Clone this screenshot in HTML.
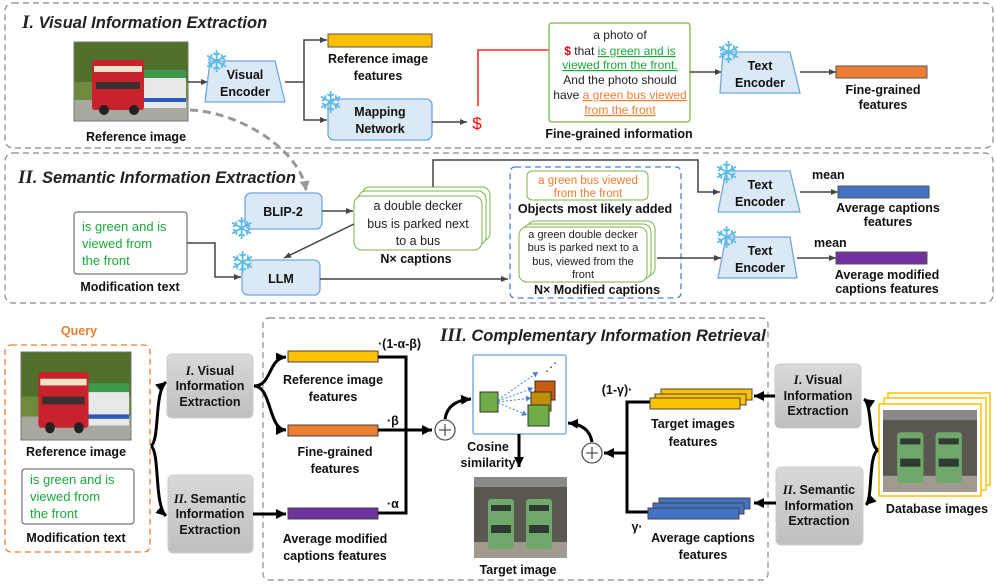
<!DOCTYPE html>
<html><head><meta charset="utf-8"><style>
html,body{margin:0;padding:0;background:#fff;}
svg{display:block;}
text{font-family:"Liberation Sans",sans-serif;}
.b{font-weight:bold;font-size:12.5px;fill:#111;}
.t{font-family:"Liberation Sans",sans-serif;font-weight:bold;font-style:italic;font-size:16.5px;fill:#222;}
.g{font-size:13px;fill:#1aa83a;}
.sf{font-family:"DejaVu Sans",sans-serif;font-size:30px;fill:#5bbbe6;}
</style></head><body>
<svg width="996" height="586" viewBox="0 0 996 586" xmlns="http://www.w3.org/2000/svg">
<defs>
<marker id="a" markerWidth="8" markerHeight="8" refX="7" refY="4" orient="auto" markerUnits="userSpaceOnUse"><path d="M0,1 L7,4 L0,7z" fill="#444"/></marker>
<marker id="r" markerWidth="8" markerHeight="8" refX="7" refY="4" orient="auto" markerUnits="userSpaceOnUse"><path d="M0,1 L7,4 L0,7z" fill="#f00"/></marker>
<marker id="k" markerWidth="12" markerHeight="12" refX="10" refY="6" orient="auto" markerUnits="userSpaceOnUse"><path d="M0,1 L10,6 L0,11z" fill="#000"/></marker>
<marker id="gd" markerWidth="12" markerHeight="12" refX="9" refY="6" orient="auto" markerUnits="userSpaceOnUse"><path d="M0,1 L10,6 L0,11z" fill="#999"/></marker>
<marker id="bl" markerWidth="6" markerHeight="6" refX="5" refY="3" orient="auto" markerUnits="userSpaceOnUse"><path d="M0,0 L5,3 L0,6z" fill="#4a7fd4"/></marker>
<linearGradient id="gb" x1="0" y1="0" x2="0" y2="1"><stop offset="0" stop-color="#d9d9d9"/><stop offset="1" stop-color="#bfbfbf"/></linearGradient>
<g id="refimg">
<rect width="114" height="79" fill="#6f8a3e"/>
<rect y="0" width="114" height="40" fill="#4f6f2a"/>
<rect y="58" width="114" height="21" fill="#a8a8a0"/>
<rect x="60" y="30" width="52" height="36" fill="#e8e8e8"/>
<rect x="60" y="28" width="52" height="8" fill="#3c9a4a"/>
<rect x="60" y="56" width="52" height="4" fill="#2b5bb3"/>
<rect x="18" y="18" width="52" height="50" rx="3" fill="#c8232c"/>
<rect x="20" y="24" width="48" height="6" fill="#f0e3c8"/>
<rect x="22" y="40" width="44" height="7" fill="#3a3030"/>
<circle cx="30" cy="68" r="5" fill="#222"/><circle cx="60" cy="68" r="5" fill="#222"/>
</g>
<g id="tgtimg">
<rect width="93" height="81" fill="#5a5650"/>
<rect width="93" height="10" fill="#8a8a88"/>
<rect y="65" width="93" height="16" fill="#a09a90"/>
<rect x="14" y="22" width="26" height="50" rx="3" fill="#6fa86a"/>
<rect x="52" y="22" width="26" height="50" rx="3" fill="#6fa86a"/>
<rect x="17" y="28" width="20" height="6" fill="#2e3a32"/><rect x="55" y="28" width="20" height="6" fill="#2e3a32"/>
<rect x="17" y="48" width="20" height="8" fill="#2e3a32"/><rect x="55" y="48" width="20" height="8" fill="#2e3a32"/>
</g>
</defs>

<!-- Panel I -->
<rect x="5" y="3" width="988" height="145" rx="8" fill="none" stroke="#888" stroke-dasharray="6,4" stroke-width="1.2"/>
<text x="22" y="28" class="t"><tspan font-family="Liberation Serif" font-size="19">I</tspan>. Visual Information Extraction</text>
<use href="#refimg" x="74" y="42"/><rect x="74" y="42" width="114" height="79" fill="none" stroke="#777"/>
<text x="136" y="141" class="b" text-anchor="middle">Reference image</text>
<line x1="188" y1="82" x2="208" y2="82" stroke="#444" stroke-width="1.5" marker-end="url(#a)"/>
<path d="M210,61 L275,61 L285,102 L205,102z" fill="#dbe8f5" stroke="#6fa8dc" stroke-width="1.3"/>
<text x="245" y="79" class="b" text-anchor="middle">Visual</text><text x="245" y="96" class="b" text-anchor="middle">Encoder</text>
<text x="204" y="72" class="sf">❄</text>
<path d="M285,82 H304 V40 H327" fill="none" stroke="#444" stroke-width="1.5" marker-end="url(#a)"/>
<path d="M304,82 V120 H327" fill="none" stroke="#444" stroke-width="1.5" marker-end="url(#a)"/>
<rect x="328" y="34" width="104" height="13" fill="#FFC000" stroke="#555"/>
<text x="378" y="63" class="b" text-anchor="middle">Reference image</text><text x="378" y="80" class="b" text-anchor="middle">features</text>
<rect x="328" y="99" width="104" height="41" rx="6" fill="#dbe8f5" stroke="#6fa8dc" stroke-width="1.3"/>
<text x="380" y="116" class="b" text-anchor="middle">Mapping</text><text x="380" y="133" class="b" text-anchor="middle">Network</text>
<text x="318" y="113" class="sf">❄</text>
<line x1="432" y1="122" x2="467" y2="122" stroke="#444" stroke-width="1.5" marker-end="url(#a)"/>
<text x="477" y="129" font-size="17" fill="#f00" text-anchor="middle">$</text>
<path d="M478,106 V50 H559" fill="none" stroke="#f00" stroke-width="1.3" marker-end="url(#r)"/>
<rect x="549" y="23" width="141" height="99" rx="3" fill="#fff" stroke="#7ab648" stroke-width="1.3"/>
<g text-anchor="middle" style="font-size:12px;fill:#222">
<text x="620" y="39">a photo of</text>
<text x="620" y="55"><tspan fill="#f00" font-weight="bold">$</tspan> that <tspan fill="#1aa83a" text-decoration="underline">is green and is</tspan></text>
<text x="620" y="69" fill="#1aa83a" text-decoration="underline">viewed from the front.</text>
<text x="620" y="84">And the photo should</text>
<text x="620" y="99">have <tspan fill="#ed7d31" text-decoration="underline">a green bus viewed</tspan></text>
<text x="620" y="114" fill="#ed7d31" text-decoration="underline">from the front</text>
</g>
<text x="619" y="138" class="b" text-anchor="middle">Fine-grained information</text>
<line x1="690" y1="72" x2="722" y2="72" stroke="#444" stroke-width="1.5" marker-end="url(#a)"/>
<path d="M723,52 L790,52 L800,93 L720,93z" fill="#dbe8f5" stroke="#6fa8dc" stroke-width="1.3"/>
<text x="760" y="70" class="b" text-anchor="middle">Text</text><text x="760" y="87" class="b" text-anchor="middle">Encoder</text>
<text x="716" y="63" class="sf">❄</text>
<line x1="800" y1="72" x2="836" y2="72" stroke="#444" stroke-width="1.5" marker-end="url(#a)"/>
<rect x="836" y="66" width="91" height="12" fill="#ED7D31" stroke="#555"/>
<text x="883" y="94" class="b" text-anchor="middle">Fine-grained</text><text x="883" y="109" class="b" text-anchor="middle">features</text>

<!-- Panel II -->
<rect x="5" y="153" width="988" height="150" rx="8" fill="none" stroke="#888" stroke-dasharray="6,4" stroke-width="1.2"/>
<text x="18" y="183" class="t"><tspan font-family="Liberation Serif" font-size="19">II</tspan>. Semantic Information Extraction</text>
<path d="M190,110 C240,112 300,150 306,190" fill="none" stroke="#999" stroke-width="3" stroke-dasharray="8,5" marker-end="url(#gd)"/>
<rect x="245" y="193" width="77" height="36" rx="6" fill="#dbe8f5" stroke="#6fa8dc" stroke-width="1.3"/>
<text x="283" y="216" class="b" text-anchor="middle">BLIP-2</text>
<text x="229" y="239" class="sf">❄</text>
<line x1="322" y1="211" x2="353" y2="211" stroke="#444" stroke-width="1.5" marker-end="url(#a)"/>
<rect x="362" y="187" width="128" height="54" rx="8" fill="#fff" stroke="#7ab648"/>
<rect x="358" y="191" width="128" height="54" rx="8" fill="#fff" stroke="#7ab648"/>
<rect x="354" y="196" width="128" height="54" rx="8" fill="#fff" stroke="#7ab648"/>
<g text-anchor="middle" style="font-size:12.5px;fill:#222"><text x="418" y="210">a double decker</text><text x="418" y="228">bus is parked next</text><text x="418" y="245">to a bus</text></g>
<text x="416" y="263" class="b" text-anchor="middle">N× captions</text>
<line x1="354" y1="224" x2="284" y2="258" stroke="#444" stroke-width="1.5" marker-end="url(#a)"/>
<path d="M433,187 V160 H698 V192 H720" fill="none" stroke="#444" stroke-width="1.5" marker-end="url(#a)"/>
<rect x="74" y="212" width="113" height="62" rx="3" fill="#fff" stroke="#555"/>
<g class="g"><text x="82" y="231">is green and is</text><text x="82" y="248">viewed from</text><text x="82" y="265">the front</text></g>
<text x="130" y="291" class="b" text-anchor="middle">Modification text</text>
<path d="M187,243 H215 V277 H241" fill="none" stroke="#444" stroke-width="1.5" marker-end="url(#a)"/>
<rect x="242" y="260" width="78" height="35" rx="6" fill="#dbe8f5" stroke="#6fa8dc" stroke-width="1.3"/>
<text x="281" y="283" class="b" text-anchor="middle">LLM</text>
<text x="230" y="273" class="sf">❄</text>
<line x1="320" y1="279" x2="508" y2="279" stroke="#444" stroke-width="1.5" marker-end="url(#a)"/>
<rect x="510" y="167" width="171" height="131" rx="5" fill="none" stroke="#4a7fd4" stroke-dasharray="6,4" stroke-width="1.3"/>
<rect x="527" y="171" width="121" height="29" rx="5" fill="#fff" stroke="#7ab648"/>
<g font-size="11.5" fill="#ed7d31" text-anchor="middle"><text x="588" y="184">a green bus viewed</text><text x="588" y="197">from the front</text></g>
<text x="595" y="213" class="b" text-anchor="middle">Objects most likely added</text>
<rect x="527" y="221" width="128" height="55" rx="8" fill="#fff" stroke="#7ab648"/>
<rect x="523" y="224" width="128" height="55" rx="8" fill="#fff" stroke="#7ab648"/>
<rect x="519" y="227" width="128" height="55" rx="8" fill="#fff" stroke="#7ab648"/>
<g text-anchor="middle" style="font-size:11px;fill:#222"><text x="583" y="238">a green double decker</text><text x="583" y="251">bus is parked next to a</text><text x="583" y="265">bus, viewed from the</text><text x="583" y="278">front</text></g>
<text x="597" y="294" class="b" text-anchor="middle">N× Modified captions</text>
<line x1="657" y1="258" x2="721" y2="258" stroke="#444" stroke-width="1.5" marker-end="url(#a)"/>
<path d="M726,171 L790,171 L800,212 L718,212z" fill="#dbe8f5" stroke="#6fa8dc" stroke-width="1.3"/>
<text x="760" y="189" class="b" text-anchor="middle">Text</text><text x="760" y="206" class="b" text-anchor="middle">Encoder</text>
<text x="714" y="183" class="sf">❄</text>
<text x="812" y="179" class="b">mean</text>
<line x1="800" y1="192" x2="838" y2="192" stroke="#444" stroke-width="1.5" marker-end="url(#a)"/>
<rect x="838" y="186" width="91" height="12" fill="#4472C4" stroke="#555"/>
<text x="888" y="212" class="b" text-anchor="middle">Average captions</text><text x="888" y="226" class="b" text-anchor="middle">features</text>
<path d="M726,237 L790,237 L797,278 L718,278z" fill="#dbe8f5" stroke="#6fa8dc" stroke-width="1.3"/>
<text x="760" y="255" class="b" text-anchor="middle">Text</text><text x="760" y="272" class="b" text-anchor="middle">Encoder</text>
<text x="714" y="248" class="sf">❄</text>
<text x="814" y="247" class="b">mean</text>
<line x1="797" y1="258" x2="836" y2="258" stroke="#444" stroke-width="1.5" marker-end="url(#a)"/>
<rect x="836" y="252" width="91" height="12" fill="#7030A0" stroke="#555"/>
<text x="887" y="279" class="b" text-anchor="middle">Average modified</text><text x="887" y="293" class="b" text-anchor="middle">captions features</text>

<!-- Bottom -->
<text x="79" y="335" font-size="12.5" font-weight="bold" fill="#ed7d31" text-anchor="middle">Query</text>
<rect x="5" y="345" width="145" height="207" rx="6" fill="none" stroke="#ed7d31" stroke-dasharray="6,4" stroke-width="1.3"/>
<svg x="21" y="352" width="110" height="88" viewBox="0 0 114 79" preserveAspectRatio="none"><use href="#refimg"/></svg>
<rect x="21" y="352" width="110" height="88" fill="none" stroke="#777"/>
<text x="76" y="456" class="b" text-anchor="middle">Reference image</text>
<rect x="22" y="469" width="112" height="55" rx="3" fill="#fff" stroke="#555"/>
<g class="g"><text x="30" y="484">is green and is</text><text x="30" y="501">viewed from</text><text x="30" y="518">the front</text></g>
<text x="76" y="542" class="b" text-anchor="middle">Modification text</text>
<path d="M151,446 C160,440 154,392 166,382" fill="none" stroke="#000" stroke-width="3" marker-end="url(#k)"/>
<path d="M151,446 C160,452 154,505 166,516" fill="none" stroke="#000" stroke-width="3" marker-end="url(#k)"/>
<rect x="167" y="354" width="86" height="64" rx="5" fill="url(#gb)" stroke="#ccc"/>
<g class="b" font-size="12" text-anchor="middle"><text x="210" y="375"><tspan font-family="Liberation Serif" font-style="italic">I</tspan>. Visual</text><text x="210" y="390">Information</text><text x="210" y="406">Extraction</text></g>
<rect x="168" y="475" width="85" height="78" rx="5" fill="url(#gb)" stroke="#ccc"/>
<g class="b" font-size="12" text-anchor="middle"><text x="210" y="503"><tspan font-family="Liberation Serif" font-style="italic">II</tspan>. Semantic</text><text x="210" y="518">Information</text><text x="210" y="534">Extraction</text></g>

<rect x="263" y="318" width="505" height="262" rx="6" fill="none" stroke="#888" stroke-dasharray="6,4" stroke-width="1.2"/>
<text x="440" y="341" class="t"><tspan font-family="Liberation Serif" font-size="19">III</tspan>. Complementary Information Retrieval</text>
<path d="M254,386 C272,386 268,358 286,357" fill="none" stroke="#000" stroke-width="3" marker-end="url(#k)"/>
<path d="M254,386 C272,386 268,430 286,430" fill="none" stroke="#000" stroke-width="3" marker-end="url(#k)"/>
<line x1="253" y1="514" x2="286" y2="514" stroke="#000" stroke-width="3" marker-end="url(#k)"/>
<rect x="288" y="351" width="90" height="11" fill="#FFC000" stroke="#444"/>
<rect x="288" y="425" width="90" height="11" fill="#ED7D31" stroke="#444"/>
<rect x="288" y="508" width="90" height="11" fill="#7030A0" stroke="#444"/>
<text x="333" y="384" class="b" text-anchor="middle">Reference image</text><text x="333" y="401" class="b" text-anchor="middle">features</text>
<text x="335" y="456" class="b" text-anchor="middle">Fine-grained</text><text x="335" y="473" class="b" text-anchor="middle">features</text>
<text x="335" y="543" class="b" text-anchor="middle">Average modified</text><text x="335" y="560" class="b" text-anchor="middle">captions features</text>
<text x="378" y="348" class="b">·(1-α-β)</text>
<text x="387" y="425" class="b">·β</text>
<text x="387" y="508" class="b">·α</text>
<path d="M378,357 H406 V513 H378" fill="none" stroke="#000" stroke-width="3"/>
<line x1="378" y1="430" x2="432" y2="430" stroke="#000" stroke-width="3" marker-end="url(#k)"/>
<circle cx="445" cy="430" r="10" fill="#fff" stroke="#555" stroke-width="1.3"/>
<path d="M439,430 H451 M445,424 V436" stroke="#555" stroke-width="1.3"/>
<path d="M445,419 C447,405 458,400 471,399" fill="none" stroke="#000" stroke-width="3" marker-end="url(#k)"/>
<rect x="473" y="355" width="93" height="79" rx="2" fill="#fff" stroke="#6f9fdc" stroke-width="1.3"/>
<rect x="480" y="392" width="18" height="20" fill="#70ad47" stroke="#333"/>
<g stroke="#4a7fd4" stroke-width="1" stroke-dasharray="2,2" fill="none">
<line x1="498" y1="400" x2="538" y2="372" marker-end="url(#bl)"/><line x1="498" y1="401" x2="533" y2="388" marker-end="url(#bl)"/><line x1="498" y1="402" x2="531" y2="398" marker-end="url(#bl)"/><line x1="498" y1="403" x2="527" y2="415" marker-end="url(#bl)"/></g>
<text x="545" y="371" font-size="12" fill="#222">⋰</text>
<rect x="535" y="381" width="20" height="19" fill="#c55a11" stroke="#333"/>
<rect x="531" y="392" width="20" height="19" fill="#bf9000" stroke="#333"/>
<rect x="528" y="405" width="21" height="21" fill="#70ad47" stroke="#333"/>
<text x="488" y="451" class="b" text-anchor="middle">Cosine</text><text x="488" y="467" class="b" text-anchor="middle">similarity</text>
<line x1="519" y1="434" x2="519" y2="467" stroke="#000" stroke-width="3" marker-end="url(#k)"/>
<use href="#tgtimg" x="474" y="477"/>
<text x="518" y="574" class="b" text-anchor="middle">Target image</text>
<circle cx="592" cy="453" r="10" fill="#fff" stroke="#555" stroke-width="1.3"/>
<path d="M586,453 H598 M592,447 V459" stroke="#555" stroke-width="1.3"/>
<path d="M592,442 C590,430 582,424 568,423" fill="none" stroke="#000" stroke-width="3" marker-end="url(#k)"/>
<line x1="627" y1="453" x2="604" y2="453" stroke="#000" stroke-width="3" marker-end="url(#k)"/>
<path d="M650,402 H627 V512 H648" fill="none" stroke="#000" stroke-width="3"/>
<rect x="661" y="389" width="91" height="11" fill="#FFC000" stroke="#444"/>
<rect x="655" y="394" width="91" height="11" fill="#FFC000" stroke="#444"/>
<rect x="650" y="398" width="90" height="11" fill="#FFC000" stroke="#444"/>
<text x="617" y="394" class="b" text-anchor="middle">(1-γ)·</text>
<text x="693" y="428" class="b" text-anchor="middle">Target images</text><text x="693" y="446" class="b" text-anchor="middle">features</text>
<rect x="659" y="498" width="91" height="11" fill="#4472C4" stroke="#444"/>
<rect x="653" y="503" width="91" height="11" fill="#4472C4" stroke="#444"/>
<rect x="648" y="508" width="91" height="11" fill="#4472C4" stroke="#444"/>
<text x="637" y="531" class="b" text-anchor="middle">γ·</text>
<text x="703" y="542" class="b" text-anchor="middle">Average captions</text><text x="703" y="559" class="b" text-anchor="middle">features</text>
<rect x="775" y="364" width="86" height="64" rx="5" fill="url(#gb)" stroke="#ccc"/>
<g class="b" font-size="12" text-anchor="middle"><text x="818" y="384"><tspan font-family="Liberation Serif" font-style="italic">I</tspan>. Visual</text><text x="818" y="400">Information</text><text x="818" y="415">Extraction</text></g>
<line x1="775" y1="396" x2="754" y2="396" stroke="#000" stroke-width="3" marker-end="url(#k)"/>
<rect x="776" y="467" width="87" height="78" rx="5" fill="url(#gb)" stroke="#ccc"/>
<g class="b" font-size="12" text-anchor="middle"><text x="819" y="494"><tspan font-family="Liberation Serif" font-style="italic">II</tspan>. Semantic</text><text x="819" y="510">Information</text><text x="819" y="525">Extraction</text></g>
<line x1="776" y1="503" x2="754" y2="503" stroke="#000" stroke-width="3" marker-end="url(#k)"/>
<rect x="888" y="393" width="102" height="92" fill="#fff" stroke="#FFC000" stroke-width="1.5"/>
<rect x="884" y="398" width="102" height="92" fill="#fff" stroke="#FFC000" stroke-width="1.5"/>
<rect x="879" y="404" width="102" height="92" fill="#fff" stroke="#FFC000" stroke-width="1.5"/>
<svg x="883" y="410" width="94" height="82" viewBox="0 0 93 81" preserveAspectRatio="none"><use href="#tgtimg"/></svg>
<text x="937" y="513" class="b" text-anchor="middle">Database images</text>
<path d="M878,450 C868,446 873,405 864,399" fill="none" stroke="#000" stroke-width="3" marker-end="url(#k)"/>
<path d="M878,450 C868,455 873,498 866,505" fill="none" stroke="#000" stroke-width="3" marker-end="url(#k)"/>
</svg>
</body></html>
